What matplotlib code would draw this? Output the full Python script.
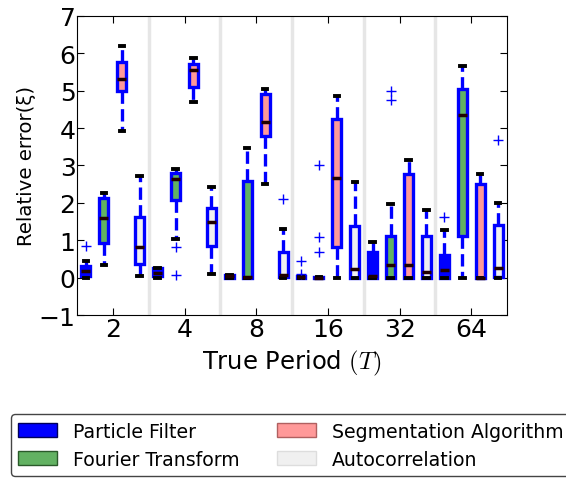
import matplotlib
matplotlib.use('Agg')
from matplotlib import pyplot as plt
from matplotlib.patches import Patch

periods = ['2', '4', '8', '16', '32', '64']
methods = ['Particle Filter', 'Fourier Transform', 'Segmentation Algorithm', 'Autocorrelation']

# per period: [whislo, q1, med, q3, whishi]
pf_stats = [[0, 0.03, 0.18, 0.30, 0.45],
            [0, 0.03, 0.13, 0.25, 0.27],
            [0, 0.00, 0.03, 0.07, 0.08],
            [0, 0.00, 0.01, 0.03, 0.03],
            [0, 0.00, 0.04, 0.69, 0.94],
            [0, 0.00, 0.21, 0.60, 1.26]]
pf_fliers = [[0.85], [], [], [0.10, 0.45], [], [1.62]]

ft_stats = [[0.35, 0.93, 1.60, 2.14, 2.27],
            [1.04, 2.07, 2.64, 2.81, 2.90],
            [0, 0.00, 0.01, 2.59, 3.46],
            [0, 0.00, 0.00, 0.02, 0.02],
            [0, 0.00, 0.34, 1.10, 1.96],
            [0, 1.10, 4.36, 5.05, 5.67]]
ft_fliers = [[], [0.83, 0.08], [], [0.68, 1.09, 3.0], [4.74, 4.98], []]

sa_stats = [[3.91, 5.00, 5.30, 5.76, 6.19],
            [4.70, 5.10, 5.54, 5.71, 5.87],
            [2.51, 3.80, 4.15, 4.91, 5.05],
            [0, 0.82, 2.67, 4.25, 4.85],
            [0, 0.00, 0.34, 2.78, 3.14],
            [0, 0.00, 0.00, 2.50, 2.76]]
sa_fliers = [[], [], [], [], [], []]

ac_stats = [[0.05, 0.36, 0.83, 1.63, 2.71],
            [0.10, 0.85, 1.50, 1.85, 2.42],
            [0, 0.02, 0.08, 0.69, 1.30],
            [0, 0.00, 0.23, 1.38, 2.57],
            [0, 0.00, 0.15, 1.10, 1.81],
            [0, 0.02, 0.27, 1.42, 2.00]]
ac_fliers = [[], [], [2.11], [], [], [3.68]]

colors = ['#0000ff', '#62b262', '#ff9999', '#f0f0f0']
edge_colors = ['#00005a', '#2a5a2a', '#b06060', '#dddddd']

plt.rcParams['font.family'] = 'DejaVu Sans'
plt.rcParams['mathtext.fontset'] = 'cm'
plt.rcParams['xtick.direction'] = 'in'
plt.rcParams['ytick.direction'] = 'in'
plt.rcParams['xtick.top'] = True
plt.rcParams['ytick.right'] = True

fig = plt.figure(figsize=(5.66, 4.81), dpi=100)
ax = fig.add_axes([0.136, 0.343, 0.76, 0.622])

all_stats = [pf_stats, ft_stats, sa_stats, ac_stats]
all_fliers = [pf_fliers, ft_fliers, sa_fliers, ac_fliers]
n = len(periods)

for j in range(4):
    stats = []
    for i in range(n):
        lo, q1, med, q3, hi = all_stats[j][i]
        stats.append(dict(whislo=lo, q1=q1, med=med, q3=q3, whishi=hi,
                          fliers=all_fliers[j][i]))
    pos = [4 * i + j + 0.5 for i in range(n)]
    ax.bxp(stats, positions=pos, widths=0.5, patch_artist=True,
           boxprops=dict(facecolor=colors[j], edgecolor='#0000ff', linewidth=2.4),
           whiskerprops=dict(color='#0000ff', linestyle='--', linewidth=2.4),
           capprops=dict(color='k', linewidth=2.8),
           medianprops=dict(color='#200000', linewidth=2.5),
           flierprops=dict(marker='+', markeredgecolor='#0000ff', markersize=7,
                           markeredgewidth=1.0),
           manage_ticks=False, zorder=3)

# light separators between period groups
for i in range(1, n):
    ax.axvline(4 * i, color='#e6e6e6', linewidth=2.5, zorder=1)

ax.set_xlim(0, 4 * n)
ax.set_ylim(-1, 7)
ax.set_xticks([4 * i + 2 for i in range(n)])
ax.set_xticklabels(periods)
ax.set_yticks(range(-1, 8))
ax.tick_params(labelsize=18, length=5)
ax.tick_params(axis='y', pad=1)
ax.tick_params(axis='x', pad=1.5)
ax.set_xlabel('True Period $(T)$', fontsize=17.5, labelpad=5)
ax.set_ylabel('Relative error(ξ)', fontsize=14.2, labelpad=2)

handles = [Patch(facecolor=colors[j], edgecolor=edge_colors[j]) for j in range(4)]
fig.legend(handles, methods,
           loc='upper left', bbox_to_anchor=(0.019, 0.137), borderaxespad=0,
           ncol=2, fontsize=13.6, handlelength=2.05, handletextpad=0.85,
           columnspacing=2.0, labelspacing=0.47, fancybox=True,
           edgecolor='#444444', framealpha=1)

fig.savefig('out.png', dpi=100)
